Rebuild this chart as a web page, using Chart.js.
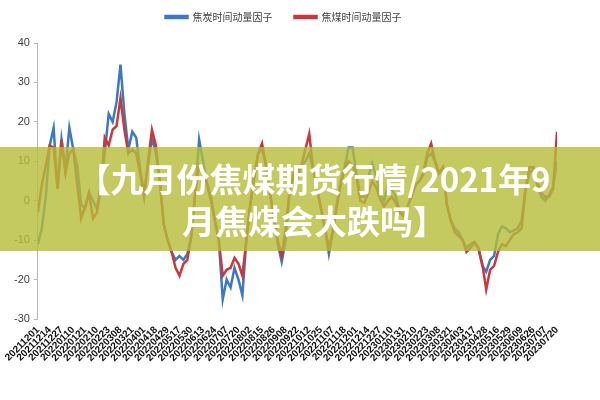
<!DOCTYPE html>
<html>
<head>
<meta charset="utf-8">
<script src="https://cdn.jsdelivr.net/npm/chart.js@4.4.0/dist/chart.umd.min.js"></script>
<style>
  html, body { margin: 0; padding: 0; background: #ffffff; }
  #wrap { position: relative; width: 600px; height: 400px; overflow: hidden; }
  #banner {
    position: absolute; left: 0; top: 147px; width: 600px; height: 104px;
    background: rgba(181, 189, 56, 0.8);
    color: #ffffff; font-family: "Noto Sans CJK SC", sans-serif; font-weight: 700;
    font-size: 33px; line-height: 42px; text-align: center;
    display: flex; align-items: center; justify-content: center; box-sizing: border-box;
    padding-left: 28px;
  }
</style>
</head>
<body>
<div id="wrap">
  <canvas id="c" width="600" height="400"></canvas>
  <div id="banner"><div>【九月份焦煤期货行情/2021年9<br>月焦煤会大跌吗】</div></div>
</div>
<script>
// tick labels (one every 3 samples)
const dateLabels = ['20211201','20211214','20211227','20220110','20220121','20220210','20220223','20220308','20220321','20220401','20220418','20220429','20220517','20220530','20220613','20220624','20220707','20220720','20220802','20220815','20220826','20220908','20220922','20221012','20221025','20221107','20221118','20221201','20221214','20221227','20230110','20230131','20230210','20230223','20230308','20230321','20230403','20230417','20230428','20230516','20230529','20230609','20230626','20230707','20230720'];
const samplesPerLabel = 3;
const seriesNames = ['焦炭时间动量因子', '焦煤时间动量因子'];
// 焦炭 (coke) factor
const cokeValues = [-11,-7,1,14,18.5,3,15.5,8,18.5,13,
  9,-1,-2,2,0,-2,4,12,22,20,
  25,34.5,22,13,17.5,16,8,2,9,16,
  12,5,-6,-10,-13,-15,-14,-15,-13.5,-9,
  2,15.5,10,4.5,1,-5,-10,-25,-20,-22,
  -17,-20,-24,-10,-1,6,12,13,9,2,
  -4,-11,-15.5,-10,2.5,6,8,9,10,12,
  8,3,-2,-7,-13.5,-8,-1,5,8.5,13.5,
  13.5,7,1,1,6,9.5,6,2,0,4,
  3,1,-2.5,-3.5,-1.5,1,4,5,6.5,11,
  12,10,7,8.5,-1,-5,-7,-8,-10,-12,
  -11,-10.5,-12,-16.5,-18,-15,-14,-8.5,-6.5,-7,
  -8,-7.5,-7,-5,3,7,8,4,1,0,
  1.5,3.5,10];
// 焦煤 (coking coal) factor
const coalValues = [-3,4,9,14,13.5,3,15.5,7,12,13,
  4,-4.5,-1.5,2,-4.5,-3,3,16,14,18,
  19,26,18,12,13,12,7,1,10,18,
  14,5,-6,-10,-13,-17,-19,-16,-15,-9,
  2,9,8,4,0,-5,-10,-19,-17.5,-17,
  -14.5,-16,-19,-10,-1,6,12,14.5,9,2,
  -4,-10,-14,-7,2.5,7,6,9,13,17,
  8,3,-2,-7,-12,-7.5,-1.5,4,8,10,
  9,6,0,-0.5,2,5,3.5,0.5,-1.5,0,
  1,-0.5,-3,-4,-1.5,1,4,5,7,12,
  14.5,10,7,8.5,-1,-5,-8,-9,-10,-13,
  -12,-10.5,-12,-16,-22.5,-17.5,-16.5,-13,-11,-11.5,
  -10,-8.5,-8,-7,3,8.5,8.5,5,2,1,
  1,3,17.5];
const yTicks = [-30,-20,-10,0,10,20,30,40];

const toPoints = arr => arr.map((v, i) => ({ x: i, y: v }));
const lastX = (dateLabels.length - 1) * samplesPerLabel;

// extra gap below the legend without moving the legend row
const legendGap = {
  id: 'legendGap',
  beforeInit(chart) {
    const lg = chart.legend;
    if (!lg) return;
    const origFit = lg.fit;
    lg.fit = function () { origFit.call(this); this.height += 11; };
  }
};

new Chart(document.getElementById('c'), {
  type: 'line',
  plugins: [legendGap],
  data: {
    datasets: [
      { label: seriesNames[0], data: toPoints(cokeValues), borderColor: '#3d78c4', backgroundColor: '#3d78c4',
        borderWidth: 2.5, pointRadius: 0, tension: 0, order: 1 },
      { label: seriesNames[1], data: toPoints(coalValues), borderColor: '#c8383c', backgroundColor: '#c8383c',
        borderWidth: 2.5, pointRadius: 0, tension: 0, order: 0 }
    ]
  },
  options: {
    responsive: false,
    animation: false,
    devicePixelRatio: 1,
    layout: { padding: { top: -10, left: 10, right: 43, bottom: 31 } },
    plugins: {
      tooltip: { enabled: false },
      legend: {
        position: 'top',
        labels: {
          boxWidth: 22, boxHeight: 2, padding: 22,
          color: '#444', font: { family: '"Noto Sans CJK SC", sans-serif', size: 10 },
          sort: (a, b) => a.datasetIndex - b.datasetIndex
        }
      }
    },
    scales: {
      x: {
        type: 'linear', min: 0, max: lastX,
        grid: { display: false, drawTicks: false },
        border: { display: false },
        ticks: {
          stepSize: samplesPerLabel, autoSkip: false, maxTicksLimit: 200,
          maxRotation: 45, minRotation: 45, padding: 5,
          color: '#111', font: { family: '"Liberation Sans", Arial, sans-serif', size: 10, weight: 'bold' },
          callback: v => dateLabels[Math.round(v / samplesPerLabel)]
        }
      },
      y: {
        min: yTicks[0], max: yTicks[yTicks.length - 1],
        afterBuildTicks: axis => { axis.ticks = yTicks.map(v => ({ value: v })); },
        grid: { display: true, drawOnChartArea: false, drawTicks: true, tickLength: 4, color: '#b8b8b8' },
        border: { display: true, color: '#b8b8b8' },
        ticks: { color: '#444', padding: 4, font: { family: '"Liberation Sans", Arial, sans-serif', size: 11 } }
      }
    }
  }
});
</script>
</body>
</html>
